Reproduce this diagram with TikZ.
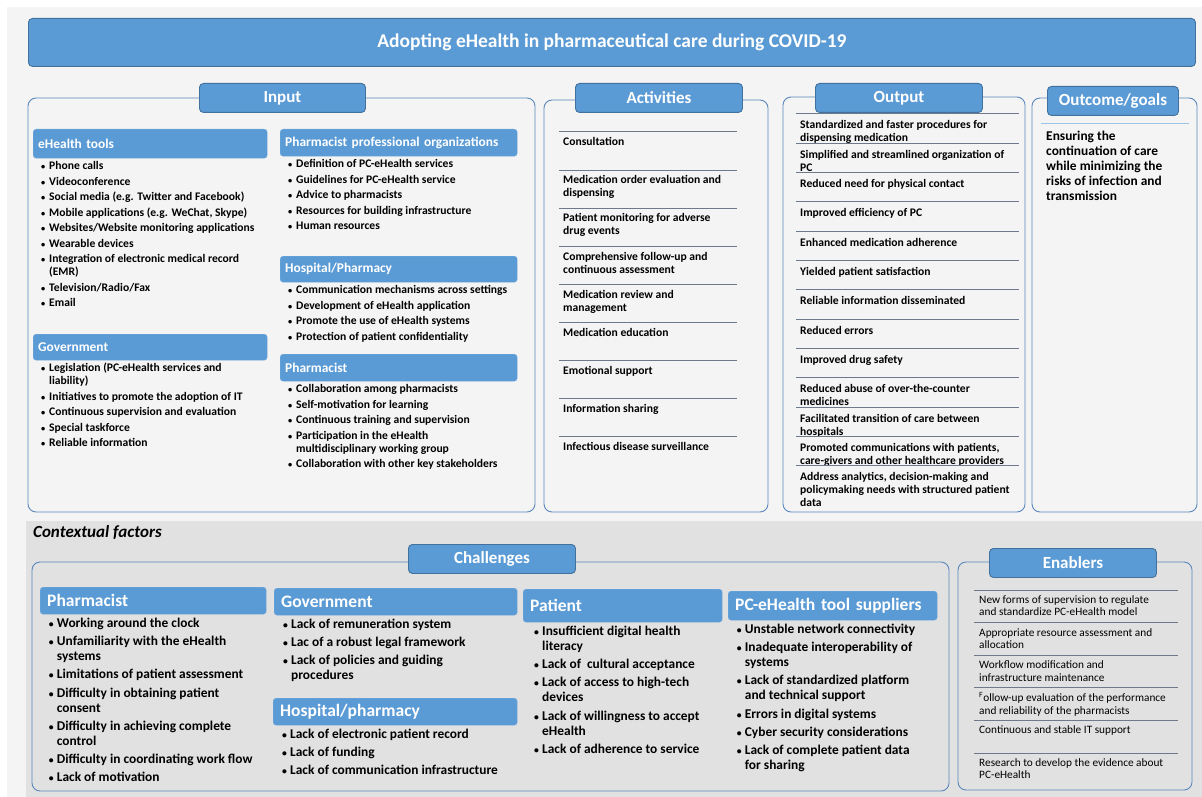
\documentclass[tikz,border=0pt]{standalone}
\usepackage{fontspec}
\setmainfont{Carlito}
\usetikzlibrary{positioning}
\definecolor{Hc}{HTML}{5B9BD5}
\definecolor{Hd}{HTML}{41719C}
\definecolor{Fc}{HTML}{5A88BE}
\definecolor{Sc}{HTML}{6C7A8C}
\definecolor{Oc}{HTML}{9DC3E6}
\definecolor{bgA}{HTML}{F4F4F4}
\definecolor{bgB}{HTML}{E1E1E1}
\newcommand{\bdot}{\makebox[8pt][l]{\scalebox{0.72}{\textbullet}}}
\newcommand{\bcont}{\hspace*{8pt}}
\newcommand{\nxt}{\\[\igap]\bdot}
\tikzset{
  boxframe/.style={draw=Fc, line width=0.9pt, rounded corners=8pt},
  tabbox/.style={draw=Hd, line width=0.9pt, fill=Hc, rounded corners=4pt, text=white,
    inner sep=0pt, anchor=north west, font=\bfseries\fontsize{17}{20}\selectfont},
  hdr/.style={fill=Hc, draw=Hc!85!white, rounded corners=3pt, text=white, inner xsep=5pt,
    inner ysep=0pt, align=left, anchor=north west, font=\bfseries\fontsize{13.4}{16}\selectfont},
  chdr/.style={hdr, inner xsep=7pt, font=\bfseries\fontsize{17.5}{20}\selectfont},
  blist/.style={inner sep=0pt, anchor=north west, align=left,
    font=\bfseries\fontsize{11.6}{13}\selectfont\def\igap{2.5pt}},
  clist/.style={blist, font=\bfseries\fontsize{13.4}{15}\selectfont\def\igap{3.3pt}},
  sepline/.style={draw=Sc, line width=1pt},
  actitem/.style={inner sep=0pt, anchor=north west, align=left,
    font=\bfseries\fontsize{11.6}{13}\selectfont},
  enab/.style={actitem, font=\fontsize{11.3}{12.3}\selectfont},
}
\begin{document}
\begin{tikzpicture}[x=1pt, y=-1pt]
  \useasboundingbox (0,0) rectangle (1202,797);
  \fill[white] (0,0) rectangle (1202,797);
  \fill[bgA] (7,7) rectangle (1202,797);
  \fill[bgB] (26,521) rectangle (1202,797);
  % title
  \node[tabbox, font=\bfseries\fontsize{19.5}{22}\selectfont, minimum width=1167pt, minimum height=48pt]
    (ttl) at (28,18) {Adopting eHealth in pharmaceutical care during COVID-19};
  % frames and tabs
  \draw[boxframe] (28,98) rectangle (535,512);
  \draw[boxframe] (544,100) rectangle (768,512);
  \draw[boxframe] (783,97) rectangle (1025,512);
  \draw[boxframe] (1032,98) rectangle (1197,512);
  \node[tabbox, minimum width=166pt, minimum height=29pt] (inTab) at (199,83) {Input};
  \node[tabbox, minimum width=167pt, minimum height=29pt] (acTab) at (575,83) {Activities};
  \node[tabbox, minimum width=167pt, minimum height=29pt] (ouTab) at (815,83) {Output};
  \node[tabbox, minimum width=131pt, minimum height=29pt] (goTab) at (1047,86) {Outcome/goals};
  % input
  \node[hdr, text width=224pt, minimum height=29pt] (ehH) at (33,129) {eHealth tools};
  \node[hdr, text width=224pt, minimum height=26pt] (gvH) at (33,334) {Government};
  \node[hdr, text width=227pt, minimum height=27pt] (poH) at (280,129) {Pharmacist professional organizations};
  \node[hdr, text width=227pt, minimum height=26pt] (hpH) at (280,256) {Hospital/Pharmacy};
  \node[hdr, text width=227pt, minimum height=27pt] (phH) at (280,354) {Pharmacist};
  \node[blist] (ehL) at (41,160.2) {\strut\bdot Phone calls\nxt Videoconference
    \nxt Social media (e.g. Twitter and Facebook)\nxt Mobile applications (e.g. WeChat, Skype)
    \nxt Websites/Website monitoring applications\nxt Wearable devices
    \nxt Integration of electronic medical record\\\bcont(EMR)\nxt Television/Radio/Fax\nxt Email};
  \node[blist] (gvL) at (41,362.2) {\strut\bdot Legislation (PC-eHealth services and\\\bcont liability)
    \nxt Initiatives to promote the adoption of IT\nxt Continuous supervision and evaluation
    \nxt Special taskforce\nxt Reliable information};
  \node[blist] (poL) at (288,158.2) {\strut\bdot Definition of PC-eHealth services
    \nxt Guidelines for PC-eHealth service\nxt Advice to pharmacists
    \nxt Resources for building infrastructure\nxt Human resources};
  \node[blist] (hpL) at (288,284.2) {\strut\bdot Communication mechanisms across settings
    \nxt Development of eHealth application\nxt Promote the use of eHealth systems
    \nxt Protection of patient confidentiality};
  \node[blist] (phL) at (288,383.2) {\strut\bdot Collaboration among pharmacists
    \nxt Self-motivation for learning\nxt Continuous training and supervision
    \nxt Participation in the eHealth\\\bcont multidisciplinary working group
    \nxt Collaboration with other key stakeholders};
  % activities
  \foreach \t [count=\i from 0] in {Consultation, {Medication order evaluation and\\dispensing},
      {Patient monitoring for adverse\\drug events}, {Comprehensive follow-up and\\continuous assessment},
      {Medication review and\\management}, Medication education, Emotional support,
      Information sharing, Infectious disease surveillance}{
    \draw[sepline] (559,{132+38.1*\i}) -- (737,{132+38.1*\i});
    \node[actitem] (act\i) at (563,{136.4+38.1*\i}) {\strut\t};
  }
  % output
  \foreach \t [count=\i from 0] in {{Standardized and faster procedures for\\dispensing medication},
      {Simplified and streamlined organization of\\PC}, Reduced need for physical contact,
      Improved efficiency of PC, Enhanced medication adherence, Yielded patient satisfaction,
      Reliable information disseminated, Reduced errors, Improved drug safety,
      {Reduced abuse of over-the-counter\\medicines}, {Facilitated transition of care between\\hospitals},
      {Promoted communications with patients,\\care-givers and other healthcare providers},
      {Address analytics, decision-making and\\policymaking needs with structured patient\\data}}{
    \draw[sepline] (796,{114+29.33*\i}) -- (1019,{114+29.33*\i});
    \node[actitem] (out\i) at (800,{119.4+29.33*\i}) {\strut\t};
  }
  % outcome
  \draw[draw=Oc, line width=1pt] (1041,124) -- (1189,124);
  \node[actitem, font=\bfseries\fontsize{13.4}{15}\selectfont] (goal) at (1046,130.1)
    {\strut Ensuring the\\continuation of care\\while minimizing the\\risks of infection and\\transmission};
  % contextual factors
  \node[anchor=west, inner sep=0pt, font=\bfseries\itshape\fontsize{17}{20}\selectfont] (ctx) at (33,533) {Contextual factors};
  \draw[boxframe] (32,562) rectangle (949,791);
  \draw[boxframe] (958,562) rectangle (1192,790);
  \node[tabbox, minimum width=167pt, minimum height=29pt] (chTab) at (408,544) {Challenges};
  \node[tabbox, minimum width=167pt, minimum height=29pt] (enTab) at (989,548) {Enablers};
  % challenges
  \node[chdr, text width=212pt, minimum height=27pt] (cphH) at (40,587) {Pharmacist};
  \node[chdr, text width=229pt, minimum height=27pt] (cgvH) at (274,588) {Government};
  \node[chdr, text width=230pt, minimum height=27pt] (chpH) at (273,698) {Hospital/pharmacy};
  \node[chdr, text width=185pt, minimum height=33pt] (cptH) at (523,589) {Patient};
  \node[chdr, text width=195pt, minimum height=29pt] (csuH) at (728,591) {PC-eHealth tool suppliers};
  \node[clist] (cphL) at (48.7,616.4) {\strut\bdot Working around the clock
    \nxt Unfamiliarity with the eHealth\\\bcont systems\nxt Limitations of patient assessment
    \nxt Difficulty in obtaining patient\\\bcont consent\nxt Difficulty in achieving complete\\\bcont control
    \nxt Difficulty in coordinating work flow\nxt Lack of motivation};
  \node[clist] (cgvL) at (283,617.4) {\strut\bdot Lack of remuneration system
    \nxt Lac of a robust legal framework\nxt Lack of policies and guiding\\\bcont procedures};
  \node[clist] (chpL) at (282,727.4) {\strut\bdot Lack of electronic patient record
    \nxt Lack of funding\nxt Lack of communication infrastructure};
  \node[clist] (cptL) at (534,624.4) {\strut\bdot Insufficient digital health\\\bcont literacy
    \nxt Lack of\ \ cultural acceptance\nxt Lack of access to high-tech\\\bcont devices
    \nxt Lack of willingness to accept\\\bcont eHealth\nxt Lack of adherence to service};
  \node[clist] (csuL) at (736.7,622.4) {\strut\bdot Unstable network connectivity
    \nxt Inadequate interoperability of\\\bcont systems\nxt Lack of standardized platform\\\bcont and technical support
    \nxt Errors in digital systems\nxt Cyber security considerations
    \nxt Lack of complete patient data\\\bcont for sharing};
  % enablers
  \foreach \t [count=\i from 0] in {{New forms of supervision to regulate\\and standardize PC-eHealth model},
      {Appropriate resource assessment and\\allocation}, {Workflow modification and\\infrastructure maintenance},
      {\textsuperscript{F}ollow-up evaluation of the performance\\and reliability of the pharmacists},
      Continuous and stable IT support, {Research to develop the evidence about\\PC-eHealth}}{
    \draw[sepline] (974,{590+32.6*\i}) -- (1178,{590+32.6*\i});
    \node[enab] (enb\i) at (979,{594.7+32.6*\i}) {\strut\t};
  }
\end{tikzpicture}
\end{document}
